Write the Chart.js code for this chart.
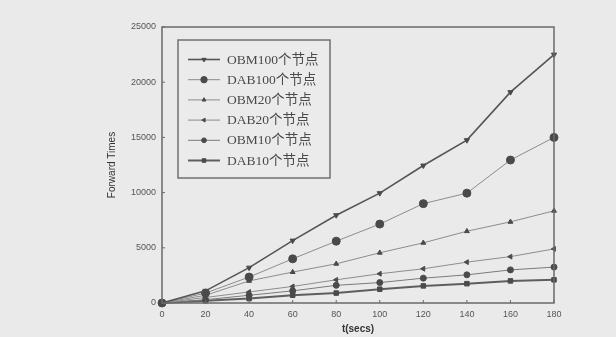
<!DOCTYPE html>
<html>
<head>
<meta charset="utf-8">
<script src="https://cdn.jsdelivr.net/npm/chart.js@4/dist/chart.umd.min.js"></script>
<style>
  html, body { margin: 0; padding: 0; background: #eaeaea; }
  canvas { display: block; }
</style>
</head>
<body>
<canvas id="myChart" width="616" height="337"></canvas>
<script>
// values
const times = [0, 20, 40, 60, 80, 100, 120, 140, 160, 180];
const obm100 = [0, 1100, 3200, 5650, 7950, 9950, 12450, 14750, 19100, 22500];
const dab100 = [0, 900, 2350, 4000, 5600, 7150, 9000, 9950, 12950, 15000];
const obm20 = [0, 700, 2000, 2800, 3550, 4550, 5450, 6500, 7350, 8350];
const dab20 = [0, 500, 1000, 1500, 2100, 2650, 3100, 3700, 4200, 4900];
const obm10 = [0, 300, 700, 1100, 1600, 1850, 2250, 2550, 3000, 3250];
const dab10 = [0, 200, 400, 700, 900, 1250, 1550, 1750, 2000, 2100];
const seriesNames = ["OBM100个节点", "DAB100个节点", "OBM20个节点", "DAB20个节点", "OBM10个节点", "DAB10个节点"];
const yTicks = [0, 5000, 10000, 15000, 20000, 25000];

function pts(arr) {
  return arr.map((v, i) => ({ x: times[i], y: v }));
}

function ds(label, arr, line, width, style, radius, rot) {
  return {
    label: label,
    data: pts(arr),
    borderColor: line,
    borderWidth: width,
    pointStyle: style,
    pointRadius: radius,
    pointRotation: rot || 0,
    pointBackgroundColor: "#4a4a4a",
    pointBorderColor: "#4a4a4a",
    pointBorderWidth: 1,
    tension: 0,
    clip: false,
  };
}

const datasets = [
  ds(seriesNames[0], obm100, "#555555", 1.6, "triangle", 3, 180),
  ds(seriesNames[1], dab100, "#8c8c8c", 1, "circle", 4),
  ds(seriesNames[2], obm20, "#8c8c8c", 1, "triangle", 2.8),
  ds(seriesNames[3], dab20, "#8c8c8c", 1, "triangle", 2.8, -90),
  ds(seriesNames[4], obm10, "#7a7a7a", 1, "circle", 3),
  ds(seriesNames[5], dab10, "#5e5e5e", 2, "rect", 3.2),
];

// frame, inner ticks and the boxed legend
const framePlugin = {
  id: "frame",
  afterDraw(chart) {
    const ctx = chart.ctx;
    const a = chart.chartArea;
    ctx.save();
    ctx.strokeStyle = "#6a6a6a";
    ctx.lineWidth = 1.5;
    ctx.strokeRect(a.left, a.top, a.right - a.left, a.bottom - a.top);

    ctx.lineWidth = 1;
    const xs = chart.scales.x, ys = chart.scales.y;
    times.forEach((t) => {
      const px = xs.getPixelForValue(t);
      ctx.beginPath();
      ctx.moveTo(px, a.bottom);
      ctx.lineTo(px, a.bottom - 3);
      ctx.stroke();
    });
    yTicks.forEach((v) => {
      const py = ys.getPixelForValue(v);
      ctx.beginPath();
      ctx.moveTo(a.left, py);
      ctx.lineTo(a.left + 3, py);
      ctx.stroke();
    });

    // legend box
    const bx = 178, by = 40, bw = 152, bh = 138;
    ctx.fillStyle = "#ebebeb";
    ctx.fillRect(bx, by, bw, bh);
    ctx.strokeStyle = "#707070";
    ctx.lineWidth = 1.5;
    ctx.strokeRect(bx, by, bw, bh);

    ctx.font = "13.5px 'Liberation Serif', 'Noto Sans CJK SC', serif";
    ctx.textBaseline = "middle";
    ctx.textAlign = "left";
    chart.data.datasets.forEach((d, i) => {
      const y = 59.5 + i * 20.2;
      ctx.strokeStyle = d.borderColor;
      ctx.lineWidth = d.borderWidth;
      ctx.beginPath();
      ctx.moveTo(188, y);
      ctx.lineTo(220, y);
      ctx.stroke();
      ctx.fillStyle = "#4a4a4a";
      ctx.strokeStyle = "#4a4a4a";
      ctx.lineWidth = 1;
      Chart.helpers.drawPoint(ctx, {
        pointStyle: d.pointStyle,
        radius: d.pointRadius * 0.8,
        rotation: d.pointRotation,
        borderWidth: 1,
      }, 204, y);
      ctx.fillStyle = "#4a4a4a";
      ctx.fillText(d.label, 227, y + 0.5);
    });
    ctx.restore();
  },
};

const chart = new Chart(document.getElementById("myChart"), {
  type: "line",
  data: { datasets: datasets },
  options: {
    responsive: false,
    animation: false,
    layout: { padding: { left: 104, top: 27, right: 62, bottom: 0 } },
    plugins: { legend: { display: false }, tooltip: { enabled: false } },
    scales: {
      x: {
        type: "linear",
        min: 0,
        max: 180,
        grid: { display: false, drawTicks: false },
        border: { display: false },
        ticks: {
          stepSize: 20,
          padding: 6,
          color: "#555",
          font: { family: "'Liberation Sans', sans-serif", size: 9 },
          maxRotation: 0,
        },
        title: {
          display: true,
          text: "t(secs)",
          color: "#333",
          font: { family: "'Liberation Sans', sans-serif", size: 10, weight: "bold" },
          padding: { top: 0, bottom: 2 },
        },
        afterFit(scale) { scale.height = 34; },
      },
      y: {
        min: 0,
        max: 25000,
        grid: { display: false, drawTicks: false },
        border: { display: false },
        ticks: {
          stepSize: 5000,
          padding: 6,
          color: "#555",
          font: { family: "'Liberation Sans', sans-serif", size: 9 },
          callback: (v) => String(v),
        },
        title: {
          display: true,
          text: "Forward Times",
          color: "#333",
          font: { family: "'Liberation Sans', sans-serif", size: 10 },
          padding: { top: 2, bottom: 0 },
        },
        afterFit(scale) { scale.width = 58; },
      },
    },
  },
  plugins: [framePlugin],
});
</script>
</body>
</html>
